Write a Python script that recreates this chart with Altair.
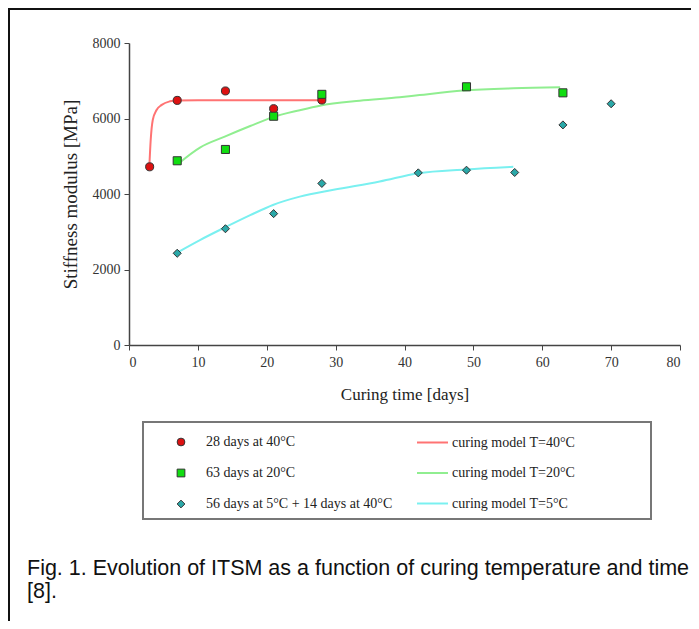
import altair as alt
import pandas as pd

# ---- data ----
series_labels = ["28 days at 40°C", "63 days at 20°C", "56 days at 5°C + 14 days at 40°C"]
model_labels = ["curing model T=40°C", "curing model T=20°C", "curing model T=5°C"]

pts40_x = [3, 7, 14, 21, 28]
pts40_y = [4720, 6480, 6730, 6260, 6490]
pts20_x = [7, 14, 21, 28, 49, 63]
pts20_y = [4880, 5180, 6060, 6640, 6840, 6680]
pts5_x = [7, 14, 21, 28, 42, 49, 56, 63, 70]
pts5_y = [2430, 3080, 3480, 4280, 4560, 4630, 4570, 5830, 6390]

m40_x = [2.95, 3.15, 3.45, 4.0, 4.75, 5.95, 6.9, 10, 15, 20, 28]
m40_y = [4720, 5430, 5960, 6225, 6360, 6455, 6480, 6482, 6482, 6482, 6482]
m20_x = [7.2, 10.3, 13.9, 17.6, 20.8, 24.8, 27.7, 33.5, 39.3, 42.2, 48.5, 55.8, 62.6]
m20_y = [4810, 5230, 5520, 5800, 6030, 6220, 6340, 6470, 6560, 6620, 6740, 6800, 6825]
m5_x = [7.2, 10.3, 14.1, 17.6, 20.9, 24.8, 29.7, 36.4, 42, 48.9, 55.8]
m5_y = [2470, 2780, 3130, 3440, 3710, 3930, 4110, 4330, 4550, 4650, 4720]

x_ticks = [0, 10, 20, 30, 40, 50, 60, 70, 80]
y_ticks = [0, 2000, 4000, 6000, 8000]

caption = ["Fig. 1. Evolution of ITSM as a function of curing temperature and time", "[8]."]

point_colors = ["#dd1111", "#11dd11", "#2aa8a8"]
point_shapes = ["circle", "square", "diamond"]
line_colors = ["#ff7373", "#90ee90", "#7af0f0"]

# ---- tables ----
pts = pd.DataFrame({
    "t": pts40_x + pts20_x + pts5_x,
    "E": pts40_y + pts20_y + pts5_y,
    "series": [series_labels[0]] * len(pts40_x) + [series_labels[1]] * len(pts20_x)
    + [series_labels[2]] * len(pts5_x),
})
lines = pd.DataFrame({
    "t": m40_x + m20_x + m5_x,
    "E": m40_y + m20_y + m5_y,
    "model": [model_labels[0]] * len(m40_x) + [model_labels[1]] * len(m20_x)
    + [model_labels[2]] * len(m5_x),
})

serif = "Liberation Serif"
W, H = 551, 302

xenc = alt.X("t:Q", scale=alt.Scale(domain=[0, 80], nice=False),
             axis=alt.Axis(values=x_ticks, title="Curing time [days]", grid=False,
                           tickSize=5, labelPadding=5, titlePadding=17,
                           labelFontSize=14, titleFontSize=17,
                           labelFont=serif, titleFont=serif, titleFontWeight="normal",
                           domainColor="#444", tickColor="#444", domainWidth=1.5,
                           labelColor="#333", titleColor="#222"))
yenc = alt.Y("E:Q", scale=alt.Scale(domain=[0, 8000], nice=False),
             axis=alt.Axis(values=y_ticks, format="d", title="Stiffness modulus [MPa]",
                           grid=False, tickSize=5, labelPadding=4, titlePadding=12,
                           labelFontSize=14, titleFontSize=19,
                           labelFont=serif, titleFont=serif, titleFontWeight="normal",
                           domainColor="#444", tickColor="#444", domainWidth=1.5,
                           labelColor="#333", titleColor="#222"))

pt_legend = alt.Legend(orient="none", legendX=45, legendY=392, title=None, padding=0,
                       labelFont=serif, labelFontSize=14, labelColor="#222", labelLimit=0,
                       symbolStrokeColor="#333", symbolStrokeWidth=1, symbolSize=60,
                       rowPadding=17, labelOffset=18)

line_layer = alt.Chart(lines).mark_line(strokeWidth=2, interpolate="monotone").encode(
    x=xenc, y=yenc,
    stroke=alt.Stroke("model:N", scale=alt.Scale(domain=model_labels, range=line_colors),
                      legend=alt.Legend(orient="none", legendX=287, legendY=383, title=None,
                                        padding=0, symbolType="stroke", symbolSize=961,
                                        symbolStrokeWidth=2, rowPadding=6.5, labelOffset=3,
                                        labelLimit=0,
                                        labelFont=serif, labelFontSize=14, labelColor="#222")),
    detail="model:N",
)

point_layer = alt.Chart(pts).mark_point(filled=True, size=65, stroke="#333", strokeWidth=1,
                                        opacity=1).encode(
    x="t:Q", y="E:Q",
    color=alt.Color("series:N", scale=alt.Scale(domain=series_labels, range=point_colors),
                    legend=pt_legend),
    shape=alt.Shape("series:N", scale=alt.Scale(domain=series_labels, range=point_shapes),
                    legend=pt_legend),
)

anchor = pd.DataFrame({"k": [0]})

legend_box = alt.Chart(anchor).mark_rect(fillOpacity=0, stroke="#777", strokeWidth=2).encode(
    x=alt.value(14), x2=alt.value(522), y=alt.value(379), y2=alt.value(476))

top_border = alt.Chart(anchor).mark_rule(color="#111", strokeWidth=2).encode(
    x=alt.value(-121), x2=alt.value(562), y=alt.value(-34))
left_border = alt.Chart(anchor).mark_rule(color="#111", strokeWidth=2).encode(
    x=alt.value(-120), y=alt.value(-35), y2=alt.value(578))

caption_text = alt.Chart(anchor).mark_text(
    text=caption, align="left", baseline="alphabetic", font="Liberation Sans",
    fontSize=21.5, lineHeight=23, color="#111").encode(
    x=alt.value(-102), y=alt.value(532))

chart = alt.layer(line_layer, point_layer, legend_box, top_border, left_border,
                  caption_text).properties(
    width=W, height=H,
    autosize=alt.AutoSizeParams(type="none"),
    padding={"left": 121, "top": 35, "right": 11, "bottom": 276},
    background="white",
).configure_view(stroke=None)

chart.save("out.html", embed_options={"renderer": "svg", "actions": False})
